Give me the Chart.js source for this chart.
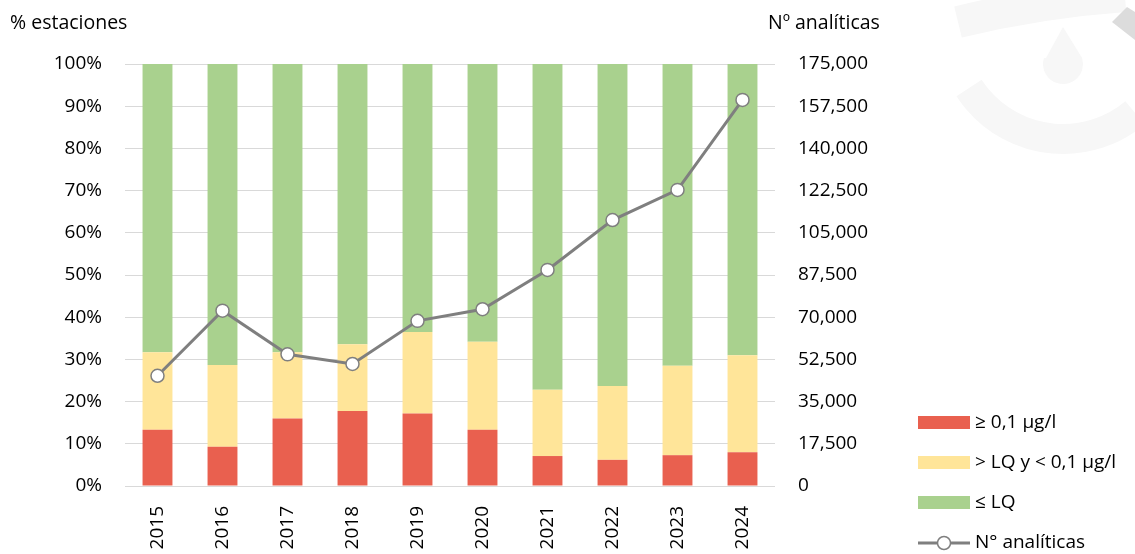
<!DOCTYPE html>
<html>
<head>
<meta charset="utf-8">
<script src="https://cdn.jsdelivr.net/npm/chart.js@4"></script>
<style>
  html, body { margin: 0; padding: 0; background: #fff; }
  #wrap { width: 1135px; height: 554px; }
</style>
</head>
<body>
<div id="wrap"><canvas id="chart" width="1135" height="554"></canvas></div>
<script>
// data
const years = ['2015', '2016', '2017', '2018', '2019', '2020', '2021', '2022', '2023', '2024'];
const pctAbove = [13.3, 9.3, 16.0, 17.8, 17.2, 13.3, 7.1, 6.2, 7.3, 8.0];        // >= 0,1 µg/l
const pctBetween = [18.4, 19.4, 15.7, 15.8, 19.3, 20.9, 15.7, 17.5, 21.2, 23.0]; // > LQ y < 0,1
const pctBelow = [68.3, 71.3, 68.3, 66.4, 63.5, 65.8, 77.2, 76.3, 71.5, 69.0];   // <= LQ
const analyses = [45700, 72700, 54600, 50600, 68500, 73300, 89600, 110300, 122800, 160100];

const FONT = "'Open Sans', 'DejaVu Sans', sans-serif";
const red = '#e9604f', yellow = '#ffe599', green = '#a9d18e', grey = '#7f7f7f';

// faint logo in the background + axis titles + legend
const decor = {
  id: 'decor',
  beforeDraw(chart) {
    const ctx = chart.ctx;
    ctx.save();
    ctx.fillStyle = '#fff';
    ctx.fillRect(0, 0, chart.width, chart.height);
    ctx.strokeStyle = '#f7f7f7';
    ctx.lineWidth = 30;
    ctx.beginPath();
    ctx.arc(1063, 27, 112, 50 * Math.PI / 180, 147 * Math.PI / 180);
    ctx.stroke();
    ctx.lineWidth = 32;
    ctx.beginPath();
    ctx.moveTo(958, 22);
    ctx.quadraticCurveTo(1040, 2, 1125, -4);
    ctx.stroke();
    ctx.fillStyle = '#f7f7f7';
    ctx.beginPath();
    ctx.moveTo(1063, 27);
    ctx.lineTo(1046, 58);
    ctx.arc(1063, 64, 20, Math.PI + 0.3, -0.3, true);
    ctx.closePath();
    ctx.fill();
    ctx.fillStyle = '#dcdcdc';
    ctx.beginPath();
    ctx.moveTo(1112, 22); ctx.lineTo(1127, 7); ctx.lineTo(1135, 12); ctx.lineTo(1135, 40);
    ctx.closePath();
    ctx.fill();
    ctx.restore();
  },
  afterDraw(chart) {
    const ctx = chart.ctx;
    ctx.save();
    ctx.font = '19.5px ' + FONT;
    ctx.fillStyle = '#000';
    ctx.textBaseline = 'middle';
    ctx.textAlign = 'left';
    ctx.fillText('% estaciones', 10, 23);
    ctx.fillText('Nº analíticas', 768, 23);

    ctx.font = '19px ' + FONT;
    const items = [
      { label: '≥ 0,1 µg/l', color: red },
      { label: '> LQ y < 0,1 µg/l', color: yellow },
      { label: '≤ LQ', color: green },
      { label: 'N° analíticas', line: true }
    ];
    items.forEach((it, i) => {
      const y = 423 + i * 40;
      if (it.line) {
        ctx.strokeStyle = grey;
        ctx.lineWidth = 3;
        ctx.beginPath();
        ctx.moveTo(918, y); ctx.lineTo(970, y);
        ctx.stroke();
        ctx.beginPath();
        ctx.arc(944, y, 6.5, 0, Math.PI * 2);
        ctx.fillStyle = '#fff';
        ctx.fill();
        ctx.lineWidth = 1.5;
        ctx.stroke();
      } else {
        ctx.fillStyle = it.color;
        ctx.fillRect(918, y - 7, 52, 13);
      }
      ctx.fillStyle = '#000';
      ctx.fillText(it.label, 975, y);
    });
    ctx.restore();
  }
};

new Chart(document.getElementById('chart'), {
  data: {
    labels: years,
    datasets: [
      { type: 'line', label: 'N° analíticas', data: analyses, yAxisID: 'y1', order: 0,
        borderColor: grey, borderWidth: 3, pointRadius: 6.5, pointHoverRadius: 6.5,
        pointBackgroundColor: '#fff', pointBorderColor: grey, pointBorderWidth: 1.5, tension: 0 },
      { type: 'bar', label: '≥ 0,1 µg/l', data: pctAbove, backgroundColor: red, order: 1, yAxisID: 'y' },
      { type: 'bar', label: '> LQ y < 0,1 µg/l', data: pctBetween, backgroundColor: yellow, order: 1, yAxisID: 'y' },
      { type: 'bar', label: '≤ LQ', data: pctBelow, backgroundColor: green, order: 1, yAxisID: 'y' }
    ]
  },
  options: {
    responsive: false,
    animation: false,
    devicePixelRatio: 1,
    layout: { autoPadding: false, padding: { top: 64, left: 0, right: 0, bottom: 0 } },
    datasets: { bar: { categoryPercentage: 1, barPercentage: 0.46 } },
    plugins: { legend: { display: false }, tooltip: { enabled: false } },
    scales: {
      x: {
        stacked: true,
        grid: { display: false },
        border: { display: false },
        ticks: { color: '#000', font: { family: FONT, size: 19 }, minRotation: 90, maxRotation: 90, padding: 12 },
        afterFit(s) { s.height = 68; }
      },
      y: {
        stacked: true, min: 0, max: 100,
        grid: { color: '#d9d9d9', lineWidth: 1, drawTicks: false },
        border: { display: false },
        ticks: { stepSize: 10, padding: 23, color: '#000', font: { family: FONT, size: 19 }, callback: v => v + '%' },
        afterFit(s) { s.width = 125; }
      },
      y1: {
        position: 'right', min: 0, max: 175000,
        grid: { drawOnChartArea: false, drawTicks: false },
        border: { display: false },
        ticks: { stepSize: 17500, padding: 23, color: '#000', font: { family: FONT, size: 19 },
          callback: v => v.toLocaleString('en-US') },
        afterFit(s) { s.width = 360; }
      }
    }
  },
  plugins: [decor]
});
</script>
</body>
</html>
